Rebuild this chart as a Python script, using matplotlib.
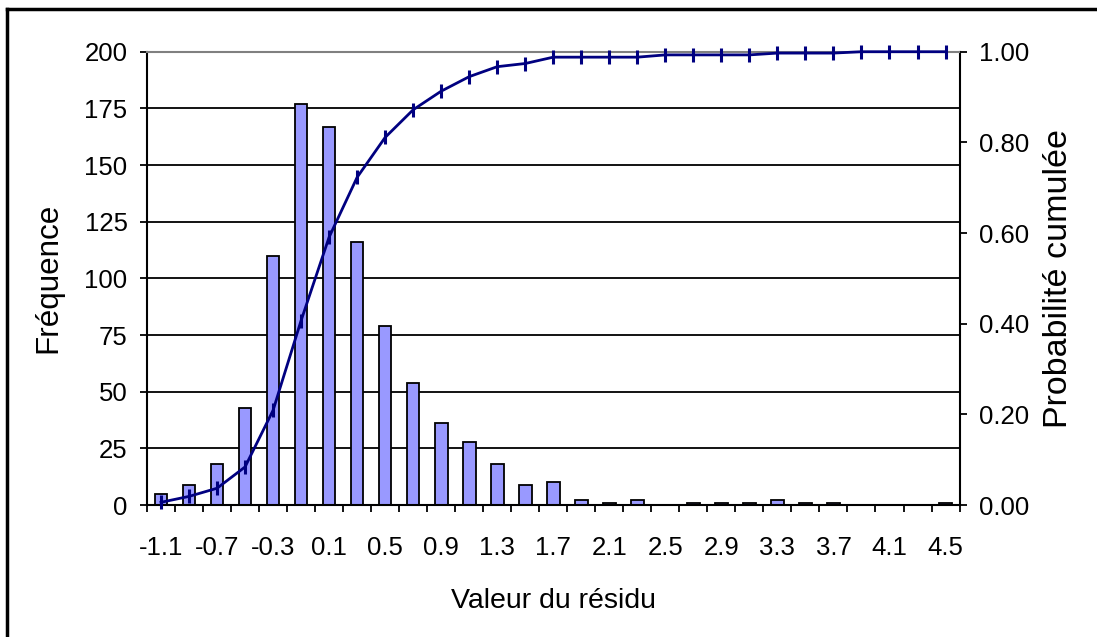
import numpy as np
import matplotlib
matplotlib.use("Agg")
import matplotlib.pyplot as plt
from matplotlib.lines import Line2D

plt.rcParams['font.family'] = ['Liberation Sans', 'DejaVu Sans']

# residual classes (bin centres)
residus = ['-1.1', '-0.9', '-0.7', '-0.5', '-0.3', '-0.1', '0.1', '0.3', '0.5', '0.7',
           '0.9', '1.1', '1.3', '1.5', '1.7', '1.9', '2.1', '2.3', '2.5', '2.7',
           '2.9', '3.1', '3.3', '3.5', '3.7', '3.9', '4.1', '4.3', '4.5']
# frequency per class
frequence = [5, 9, 18, 43, 110, 177, 167, 116, 79, 54,
             36, 28, 18, 9, 10, 2, 1, 2, 0, 1,
             1, 1, 2, 1, 1, 0, 0, 0, 1]
# cumulative probability
proba_cumulee = [0.006, 0.019, 0.037, 0.084, 0.209, 0.407, 0.591, 0.723, 0.811, 0.872,
                 0.913, 0.945, 0.967, 0.974, 0.988, 0.988, 0.988, 0.988, 0.993, 0.993,
                 0.993, 0.993, 0.997, 0.997, 0.997, 1.0, 1.0, 1.0, 1.0]

x = np.arange(len(residus))

fig = plt.figure(figsize=(10.97, 6.37), dpi=100)
ax = fig.add_axes([0.134, 0.2072, 0.7407, 0.7116])

ax.set_axisbelow(True)
ax.yaxis.grid(True, color='black', linewidth=1.3)
ax.bar(x, frequence, width=0.45, color='#9999FF', edgecolor='black', linewidth=1.3, zorder=2)

ax.set_xlim(-0.5, len(residus) - 0.5)
ax.set_ylim(0, 200)
ax.set_yticks(np.arange(0, 201, 25))
ax.tick_params(axis='y', direction='out', length=5, width=1.3, labelsize=18.5, pad=9)

# labels on every other class, tick marks on class boundaries
ax.set_xticks(x[::2])
ax.set_xticklabels(residus[::2])
ax.set_xticks(np.arange(-0.5, len(residus), 1), minor=True)
ax.tick_params(axis='x', which='major', length=0, labelsize=18.5, pad=22.5)
ax.tick_params(axis='x', which='minor', direction='out', length=5, width=1.3)

for s in ['left', 'bottom', 'right']:
    ax.spines[s].set_linewidth(1.5)
ax.spines['top'].set_color('#808080')
ax.spines['top'].set_linewidth(1.5)

ax.set_xlabel('Valeur du résidu', fontsize=20.5, labelpad=20)
ax.set_ylabel('Fréquence', fontsize=22.6, labelpad=15)

ax2 = ax.twinx()
ax2.plot(x, proba_cumulee, color='#000080', linewidth=2, marker='|',
         markersize=9.5, markeredgewidth=2.2, zorder=3, clip_on=False)
ax2.set_ylim(0, 1)
ax2.set_yticks(np.arange(0, 1.01, 0.2))
ax2.set_yticklabels(['%.2f' % v for v in np.arange(0, 1.01, 0.2)])
ax2.tick_params(axis='y', direction='out', length=5, width=1.3, labelsize=18.5, pad=9)
ax2.set_ylabel('Probabilité cumulée', fontsize=24.5, labelpad=10)
for s in ax2.spines.values():
    s.set_visible(False)

# chart frame (left and top edges visible)
fig.add_artist(Line2D([7 / 1097, 7 / 1097], [0, 1 - 9 / 637], transform=fig.transFigure,
                      color='black', linewidth=2.5))
fig.add_artist(Line2D([7 / 1097, 1], [1 - 9 / 637, 1 - 9 / 637], transform=fig.transFigure,
                      color='black', linewidth=2.5))

fig.savefig('out.png', dpi=100)
